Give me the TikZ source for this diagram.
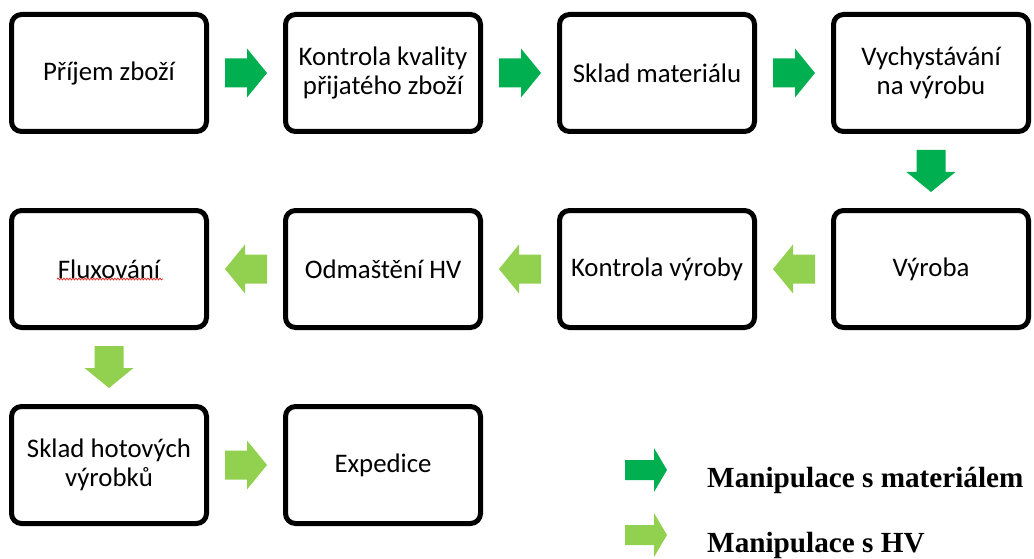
\documentclass[tikz,border=0pt]{standalone}
\usepackage{fontspec}
\setmainfont{Carlito}
\newfontfamily\legendfont{Liberation Serif}
\usetikzlibrary{calc,decorations.pathmorphing}
\definecolor{dkgreen}{HTML}{00B050}
\definecolor{ltgreen}{HTML}{92D050}
\definecolor{spellred}{HTML}{E0302A}
\tikzset{
  procbox/.style={draw=black, line width=5pt, rounded corners=10pt, fill=white,
    minimum width=195pt, minimum height=117pt, align=center,
    font=\fontsize{26.8}{28.5}\selectfont},
  blockarrow/.pic={\fill[pic actions] (-21,-14.5) -- (1,-14.5) -- (1,-24.5) -- (21,0) -- (1,24.5) -- (1,14.5) -- (-21,14.5) -- cycle;},
  legarrow/.pic={\fill[pic actions] (-21,-10) -- (8,-10) -- (8,-22) -- (21,0) -- (8,22) -- (8,10) -- (-21,10) -- cycle;},
  legtext/.style={anchor=base west, inner sep=0pt, font=\legendfont\bfseries\fontsize{29.2}{32}\selectfont}
}
\begin{document}
\begin{tikzpicture}[x=1pt,y=-1pt]
\useasboundingbox (0,0) rectangle (1034,559);
% row 1
\node[procbox] (b1) at (109,73) {Příjem zboží};
\node[procbox] (b2) at (383,73) {Kontrola kvality\\přijatého zboží};
\node[procbox] (b3) at (657,73) {Sklad materiálu};
\node[procbox] (b4) at (931,73) {Vychystávání\\na výrobu};
% row 2
\node[procbox] (b5) at (931,269) {Výroba};
\node[procbox] (b6) at (657,269) {Kontrola výroby};
\node[procbox] (b7) at (383,269) {Odmaštění HV};
\node[procbox] (b8) at (109,269) {Fluxování};
% row 3
\node[procbox] (b9) at (109,465) {Sklad hotových\\výrobků};
\node[procbox] (b10) at (383,465) {Expedice};
% spell-check underline
\draw[spellred, line width=0.8pt, decorate, decoration={snake, amplitude=0.9pt, segment length=3pt}] (57,279) -- (163,279);
% dark green arrows
\pic[fill=dkgreen] at ($(b1.east)!0.5!(b2.west)$) {blockarrow};
\pic[fill=dkgreen] at ($(b2.east)!0.5!(b3.west)$) {blockarrow};
\pic[fill=dkgreen] at ($(b3.east)!0.5!(b4.west)$) {blockarrow};
\pic[fill=dkgreen, rotate=-90] at ($(b4.south)!0.5!(b5.north)$) {blockarrow};
% light green arrows
\pic[fill=ltgreen, rotate=180] at ($(b5.west)!0.5!(b6.east)$) {blockarrow};
\pic[fill=ltgreen, rotate=180] at ($(b6.west)!0.5!(b7.east)$) {blockarrow};
\pic[fill=ltgreen, rotate=180] at ($(b7.west)!0.5!(b8.east)$) {blockarrow};
\pic[fill=ltgreen, rotate=-90] at ($(b8.south)!0.5!(b9.north)$) {blockarrow};
\pic[fill=ltgreen] at ($(b9.east)!0.5!(b10.west)$) {blockarrow};
% legend
\coordinate (l1) at (646,470);
\coordinate (l2) at (646,535);
\pic[fill=dkgreen] at (l1) {legarrow};
\pic[fill=ltgreen] at (l2) {legarrow};
\node[legtext] (t1) at (707,487) {Manipulace s materiálem};
\node[legtext] (t2) at (707,552) {Manipulace s HV};
\end{tikzpicture}
\end{document}
